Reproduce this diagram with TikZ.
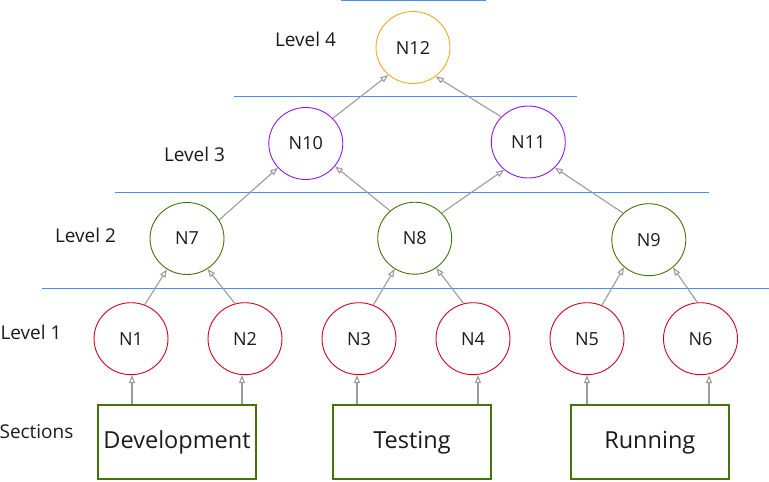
\documentclass[tikz,border=0pt]{standalone}
\usepackage{fontspec}
\setmainfont{Open Sans}
\usetikzlibrary{shapes.geometric,arrows.meta}
\definecolor{cred}{HTML}{D0021B}
\definecolor{cgreen}{HTML}{417505}
\definecolor{cpurple}{HTML}{9013FE}
\definecolor{corange}{HTML}{F5A623}
\definecolor{cblue}{HTML}{4A90E2}
\definecolor{cgray}{HTML}{9B9B9B}
\definecolor{ctext}{HTML}{1A1A1A}
\tikzset{
  nd/.style={ellipse,draw,line width=0.9pt,minimum width=74pt,minimum height=72pt,inner sep=0pt,
    text=ctext,font=\fontsize{18}{18}\selectfont},
  lvl1/.style={nd,draw=cred},
  lvl2/.style={nd,draw=cgreen},
  lvl3/.style={nd,draw=cpurple},
  lvl4/.style={nd,draw=corange},
  sect/.style={rectangle,draw=cgreen,line width=2pt,minimum width=158pt,minimum height=74pt,
    inner sep=0pt,text=ctext,font=\fontsize{23.5}{23.5}\selectfont},
  lbl/.style={inner sep=0pt,text=ctext,font=\fontsize{19}{19}\selectfont},
  sep/.style={draw=cblue,line width=1pt},
  arr/.style={draw=cgray,line width=1.1pt,-{Triangle[open,length=8pt,width=6pt]}}
}
\begin{document}
\begin{tikzpicture}[x=1pt,y=-1pt]
\useasboundingbox (0,0) rectangle (769,482);
% separator lines
\coordinate (s0a) at (341,0.6); \coordinate (s0b) at (486,0.6);
\coordinate (s1a) at (234,96); \coordinate (s1b) at (577,96);
\coordinate (s2a) at (115,192); \coordinate (s2b) at (709,192);
\coordinate (s3a) at (42,288); \coordinate (s3b) at (769,288);
\draw[sep] (s0a) -- (s0b);
\draw[sep] (s1a) -- (s1b);
\draw[sep] (s2a) -- (s2b);
\draw[sep] (s3a) -- (s3b);
% labels
\node[lbl] (L4) at (305.5,39.5) {Level 4};
\node[lbl] (L3) at (194.5,154) {Level 3};
\node[lbl] (L2) at (85.5,235.5) {Level 2};
\node[lbl] (L1) at (31,332.5) {Level 1};
\node[lbl] (LS) at (36.5,432) {Sections};
% nodes
\node[lvl4] (N12) at (413,47.5) {N12};
\node[lvl3] (N10) at (305.8,143.5) {N10};
\node[lvl3] (N11) at (528.3,142) {N11};
\node[lvl2] (N7) at (187,238.5) {N7};
\node[lvl2] (N8) at (414.7,238.2) {N8};
\node[lvl2] (N9) at (648.8,239.7) {N9};
\node[lvl1] (N1) at (131,338.7) {N1};
\node[lvl1] (N2) at (245,338.7) {N2};
\node[lvl1] (N3) at (359,338.7) {N3};
\node[lvl1] (N4) at (473,338.7) {N4};
\node[lvl1] (N5) at (587,338.7) {N5};
\node[lvl1] (N6) at (700.5,338.7) {N6};
\node[sect] (dev) at (177,442.3) {Development};
\node[sect] (tst) at (412,442.3) {Testing};
\node[sect] (run) at (649.8,442.3) {Running};
% connectors between levels
\draw[arr] (N1.68) -- (N7.237);
\draw[arr] (N2.106) -- (N7.304);
\draw[arr] (N3.67) -- (N8.237);
\draw[arr] (N4.105) -- (N8.306);
\draw[arr] (N5.66) -- (N9.228);
\draw[arr] (N6.95) -- (N9.311);
\draw[arr] (N7.30) -- (N10.221);
\draw[arr] (N8.132) -- (N10.322);
\draw[arr] (N8.43) -- (N11.229);
\draw[arr] (N9.134) -- (N11.316);
\draw[arr] (N10.43) -- (N12.228);
\draw[arr] (N11.137) -- (N12.308);
% connectors from sections
\draw[arr] (dev.north -| 132,0) -- (N1.south -| 132,0);
\draw[arr] (dev.north -| 242,0) -- (N2.south -| 242,0);
\draw[arr] (tst.north -| 357,0) -- (N3.south -| 357,0);
\draw[arr] (tst.north -| 478,0) -- (N4.south -| 478,0);
\draw[arr] (run.north -| 587,0) -- (N5.south -| 587,0);
\draw[arr] (run.north -| 709,0) -- (N6.south -| 709,0);
\end{tikzpicture}
\end{document}
